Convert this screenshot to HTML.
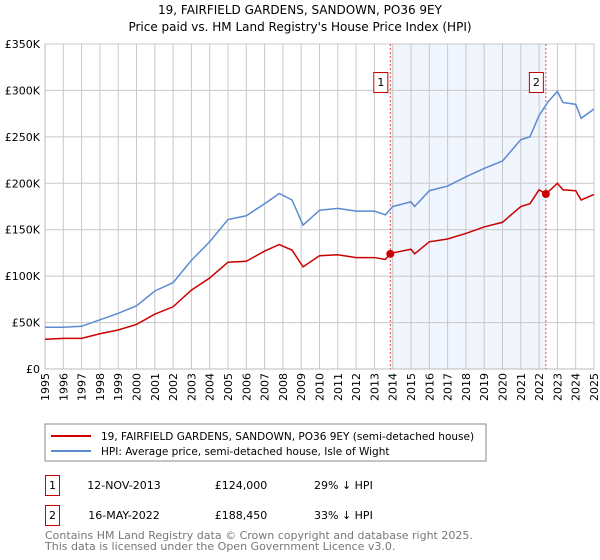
<!DOCTYPE html>
<html><head><meta charset="utf-8">
<style>
body{margin:0;background:#fff;font-family:"DejaVu Sans","Liberation Sans",sans-serif;}
svg{display:block;font-family:"DejaVu Sans","Liberation Sans",sans-serif}
</style></head>
<body>
<svg width="600" height="560" viewBox="0 0 600 560" id="chart">
<text x="300" y="14" text-anchor="middle" font-size="12" fill="#000">19, FAIRFIELD GARDENS, SANDOWN, PO36 9EY</text>
<text x="300" y="31" text-anchor="middle" font-size="12" fill="#000">Price paid vs. HM Land Registry's House Price Index (HPI)</text>
<g id="plot"></g>
<rect x="45" y="424" width="441" height="37" fill="#fff" stroke="#888"/>
<line x1="51" y1="436" x2="91" y2="436" stroke="#cc0000" stroke-width="2"/>
<text x="101" y="440" font-size="10.5">19, FAIRFIELD GARDENS, SANDOWN, PO36 9EY (semi-detached house)</text>
<line x1="51" y1="451" x2="91" y2="451" stroke="#5b8bd0" stroke-width="2"/>
<text x="101" y="455" font-size="10.5">HPI: Average price, semi-detached house, Isle of Wight</text>
<g>
<rect x="45.5" y="475.5" width="14" height="20" fill="none" stroke="#cc0000"/>
<text x="52.5" y="489" font-size="11" text-anchor="middle">1</text>
<text x="124" y="489" font-size="11" text-anchor="middle">12-NOV-2013</text>
<text x="241" y="489" font-size="11" text-anchor="middle">£124,000</text>
<text x="314" y="489" font-size="11">29% ↓ HPI</text>
</g>
<g>
<rect x="45.5" y="505.5" width="14" height="20" fill="none" stroke="#cc0000"/>
<text x="52.5" y="519" font-size="11" text-anchor="middle">2</text>
<text x="124" y="519" font-size="11" text-anchor="middle">16-MAY-2022</text>
<text x="241" y="519" font-size="11" text-anchor="middle">£188,450</text>
<text x="314" y="519" font-size="11">33% ↓ HPI</text>
</g>
<text x="45" y="539" font-size="11" fill="#777">Contains HM Land Registry data © Crown copyright and database right 2025.</text>
<text x="45" y="550" font-size="11" fill="#777">This data is licensed under the Open Government Licence v3.0.</text>
</svg>
<script>
const hpiYears=[1995,1996,1997,1998,1999,2000,2001,2002,2003,2004,2005,2006,2007,2007.8,2008.5,2009.1,2009.5,2010,2011,2012,2013,2013.6,2014,2015,2015.2,2016,2017,2018,2019,2020,2021,2021.5,2022,2022.5,2023,2023.3,2024,2024.3,2025];
const hpiValues=[45,45,46,53,60,68,84,93,117,137,161,165,178,189,182,155,162,171,173,170,170,166,175,180,175,192,197,207,216,224,247,250,273,288,299,287,285,270,280];
const propYears=[1995,1996,1997,1998,1999,2000,2001,2002,2003,2004,2005,2006,2007,2007.8,2008.5,2009.1,2010,2011,2012,2013,2013.6,2013.87,2014,2015,2015.2,2016,2017,2018,2019,2020,2021,2021.5,2022,2022.37,2023,2023.3,2024,2024.3,2025];
const propValues=[32,33,33,38,42,48,59,67,85,98,115,116,127,134,128,110,122,123,120,120,118,124,125,129,124,137,140,146,153,158,175,178,193,188.45,200,193,192,182,188];
const saleYears=[2013.87,2022.37];
const saleValues=[124,188.45];
const saleLabels=["1","2"];
const yTicks=[0,50,100,150,200,250,300,350];
const yTickLabels=["£0","£50K","£100K","£150K","£200K","£250K","£300K","£350K"];
const xTicks=[1995,1996,1997,1998,1999,2000,2001,2002,2003,2004,2005,2006,2007,2008,2009,2010,2011,2012,2013,2014,2015,2016,2017,2018,2019,2020,2021,2022,2023,2024,2025];

const X0=45,X1=594,Y0=369,Y1=44;
const xs=y=>X0+(y-1995)/(2025-1995)*(X1-X0);
const ys=v=>Y0-v/350*(Y0-Y1);
const NS="http://www.w3.org/2000/svg";
const g=document.getElementById('plot');
function mk(t,a){const e=document.createElementNS(NS,t);for(const k in a)e.setAttribute(k,a[k]);g.appendChild(e);return e;}
const shade=mk('rect',{x:xs(saleYears[0]),y:Y1,width:xs(saleYears[1])-xs(saleYears[0]),height:Y0-Y1,fill:'#eef3fc',opacity:0.8});


xTicks.forEach(t=>{
 const l=mk('line',{x1:xs(t),x2:xs(t),y1:Y1,y2:Y0,stroke:'#c8c8c8','stroke-width':1});
 
 
 const tx=mk('text',{x:0,y:0,'font-size':11,'text-anchor':'end',transform:`translate(${xs(t)+4},${Y0+4}) rotate(-90)`});
 tx.textContent=t;
 
 
});
yTicks.forEach((t,i)=>{
 const l=mk('line',{x1:X0,x2:X1,y1:ys(t),y2:ys(t),stroke:'#c8c8c8','stroke-width':1});
 
 
 const tx=mk('text',{x:X0-5,y:ys(t)+4,'font-size':11,'text-anchor':'end'});
 tx.textContent=yTickLabels[i];
 
 
});
const ax=mk('path',{d:`M${X0} ${Y1}V${Y0}H${X1}`,fill:'none',stroke:'#bbb'});


saleYears.forEach((s,i)=>{
 const l=mk('line',{x1:xs(s),x2:xs(s),y1:Y1,y2:Y0,stroke:'#e05050','stroke-dasharray':'2,2','stroke-width':1});
 
 
 const b=mk('rect',{x:xs(s)-16.5,y:72.5,width:14,height:20,fill:'#fff',stroke:'#cc0000'});
 
 
 const t=mk('text',{x:xs(s)-9.5,y:86,'font-size':11,'text-anchor':'middle'});
 t.textContent=saleLabels[i];
 
 
});
const hp=mk('polyline',{points:hpiYears.map((y,i)=>xs(y)+','+ys(hpiValues[i])).join(' '),fill:'none',stroke:'#5b8bd0','stroke-width':1.5});


const pp=mk('polyline',{points:propYears.map((y,i)=>xs(y)+','+ys(propValues[i])).join(' '),fill:'none',stroke:'#cc0000','stroke-width':1.5});


saleYears.forEach((s,i)=>{
 const c=mk('circle',{cx:xs(s),cy:ys(saleValues[i]),r:4,fill:'#cc0000'});
 
 
});
</script>
</body></html>
